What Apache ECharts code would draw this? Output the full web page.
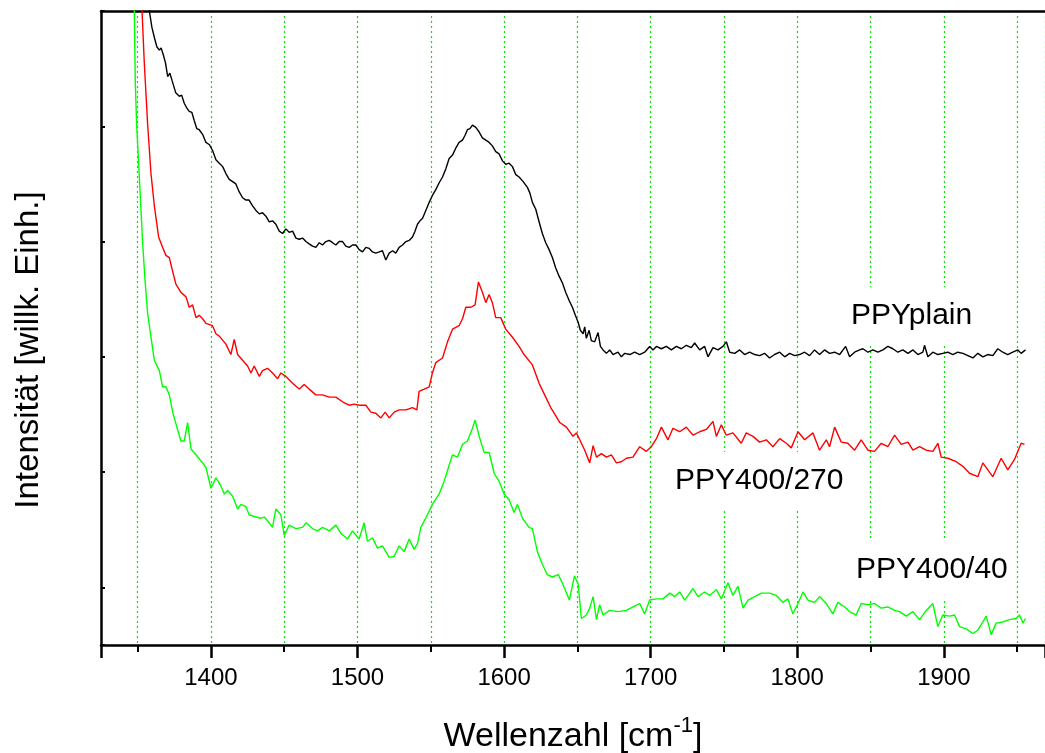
<!DOCTYPE html>
<html>
<head>
<meta charset="utf-8">
<script src="https://cdn.jsdelivr.net/npm/echarts@6/dist/echarts.min.js"></script>
<style>
html,body{margin:0;padding:0;background:#fff;}
#chart{width:1045px;height:753px;}
</style>
</head>
<body>
<div id="chart"></div>
<script>
// Wavenumbers (cm^-1) and intensities (arb. units, y axis from -50 to 500)
const plainWn = [1352,1355,1358,1359.7,1361.4,1363.1,1364.8,1366,1367.5,1369,1370.5,1372,1373.4,1376,1378.4,1380,1381.8,1383.5,1385.2,1387,1388.6,1390.3,1392,1394.3,1396.6,1399,1401.1,1403.4,1405.7,1408,1410.2,1412.5,1414.8,1417,1419.3,1421.6,1423.9,1426,1428.4,1430.7,1433,1435.2,1437.5,1439.8,1442,1444.3,1446.6,1448.9,1451.1,1453.4,1455.7,1458,1460.2,1462.5,1464.8,1467,1469.3,1471.6,1473.9,1476.1,1478.4,1480.7,1483,1485.2,1487.5,1489.8,1492,1494.3,1496.6,1498.9,1501.1,1503.4,1505.7,1508,1510.2,1512.5,1514.8,1517,1519.3,1521.6,1523.9,1526.1,1528.4,1530.7,1533,1535.2,1537.5,1539.2,1540.9,1542.6,1544.3,1546.6,1548.9,1551.1,1553.4,1555.7,1558,1560.2,1562.5,1564.8,1567,1569.3,1571.6,1573.3,1575,1576.7,1578.4,1580.7,1583,1585.2,1587.5,1589.8,1592,1594.3,1596.6,1598.9,1601.1,1603.4,1605.7,1608,1610.2,1613,1615.9,1617.6,1619.3,1621.6,1623.9,1626.1,1628.4,1630.7,1633,1635.2,1637.5,1639.8,1642,1644.3,1646.6,1648.6,1650.5,1652,1653.9,1655,1656.1,1658,1659.5,1661.8,1664.1,1665.7,1667.5,1669.8,1672,1674.3,1677.7,1680,1682.3,1685.7,1689.1,1692.5,1695.9,1699.3,1701.6,1703.9,1707.3,1710.7,1714.1,1717.5,1720.9,1724.3,1727.7,1730,1733.4,1736.8,1739.1,1742.5,1745.9,1749.3,1751.6,1753.9,1757.3,1760.7,1764.1,1767.5,1770.9,1774.3,1777.7,1781.1,1784.5,1788,1791.4,1794.8,1798.2,1801.6,1805,1808.4,1811.8,1815.2,1818.6,1822,1825.5,1828.9,1833,1835.7,1839.1,1842.5,1844.8,1848.2,1851.6,1855,1858.4,1861.8,1865.2,1868.6,1872,1875.5,1878.9,1882.3,1885.7,1886.8,1889.1,1892.5,1895.9,1899.3,1902.7,1906.1,1909.5,1913,1916.4,1919.8,1923.2,1926.6,1930,1933.4,1936.8,1940.2,1943.6,1947,1950.5,1952.7,1955.7];
const plainVal = [640,560,500,486,477,469,466,468,462,455,443,446,440,429,426,427,420,416,413,412,405,398,397,393,386,384,379,371,368,365,359,354,352,350,343,338,336,336,331,327,324,325,322,317,318,315,309,307,311,308,309,303,302,303,300,298,296,295,299,297,300,301,299,297,300,300,296,295,297,297,293,291,295,294,291,290,291,292,284,290,292,290,295,297,300,301,304,309,315,318,320,327,334,340,345,351,356,363,372,375,381,386,388,392,397,398,401,399,395,390,388,386,383,378,376,370,367,368,365,358,356,352,347,342,334,328,317,307,299,293,286,277,270,264,256,249,243,236,230,223,220,226,216,223,214,213,221,209,206,203,206,202,204,200,203,202,204,202,204,209,206,209,207,209,206,209,207,210,208,212,206,209,200,208,206,209,213,204,203,206,202,204,202,201,203,199,202,204,200,203,201,202,204,201,206,202,206,203,204,202,209,200,204,206,207,204,206,204,206,209,207,204,206,203,206,202,204,210,200,204,202,203,204,202,204,203,201,199,203,200,202,201,207,204,202,204,206,203,206];

const r270Wn = [1351.5,1353,1354.5,1356.8,1359.1,1361.4,1364.3,1367,1369.3,1371.6,1373.9,1376.1,1379.5,1383,1385.2,1387.5,1389.8,1392,1394.3,1396.6,1401.1,1403.4,1405.7,1410.2,1413.6,1415.9,1418.2,1421.6,1425,1427.3,1429.5,1433,1435.2,1438.6,1442,1445.5,1447.7,1451.1,1455.7,1460.2,1463.6,1467,1471.6,1476.1,1480.7,1485.2,1489.8,1494.3,1497.7,1501.1,1505.7,1509.1,1512.5,1515.9,1518.9,1521.6,1525,1528.4,1533,1537.5,1540.5,1542,1545.5,1548.9,1551.1,1553.4,1558,1561.4,1564.8,1569.3,1571.6,1573.9,1577.3,1580.2,1582.5,1585.2,1587.5,1589.8,1592,1594.3,1597.7,1601.1,1605.7,1610.2,1613.6,1619.3,1623.9,1628.4,1631.8,1635.2,1638,1642.5,1647,1649.3,1651.6,1655,1658.4,1660.7,1663,1666.4,1669.8,1673.2,1676.6,1680,1683.4,1687.9,1692.5,1697,1700.5,1703.9,1707.3,1711.8,1715.2,1719.8,1724.3,1728.9,1733.4,1738,1742.5,1744.8,1748.2,1751.6,1756.1,1761.8,1765.2,1769.8,1774.3,1778.9,1783.4,1788,1792.5,1795.9,1800.5,1805,1810.7,1815.2,1819.8,1822,1825.5,1830,1834.5,1839.1,1843.6,1848.2,1852.7,1857.3,1861.8,1866.4,1870.9,1875.5,1878.9,1883.4,1888,1892.5,1895.9,1898.2,1902.7,1908.4,1913,1917.5,1923.2,1926.6,1931.1,1933.4,1939.1,1943.6,1948.2,1952.7,1955];
const r270Val = [600,500,456,402,359,331,304,295,288,286,274,263,256,252,243,245,234,236,233,229,227,220,218,211,202,215,202,197,192,186,192,183,188,190,186,181,186,183,177,172,176,172,167,167,165,165,161,158,159,158,158,152,151,147,152,147,152,154,154,156,154,170,172,174,186,195,199,213,224,227,233,243,243,245,265,256,247,254,247,234,234,224,217,209,202,193,177,165,156,149,143,139,131,134,128,119,108,123,113,116,113,115,108,109,112,113,122,118,122,129,139,128,138,135,139,132,135,137,144,131,141,132,134,125,134,131,126,128,122,129,125,121,135,128,134,119,128,122,139,126,125,119,128,119,118,125,122,132,124,126,119,122,119,118,125,113,112,109,105,99,96,108,100,96,112,102,111,125,124];

const g40Wn = [1347.5,1348.4,1349.3,1350.7,1352.3,1353.4,1355,1356.8,1359.1,1361.4,1364.8,1367,1369.3,1371.6,1373.9,1376.1,1377.2,1379.5,1381.8,1384.1,1386.4,1389.8,1394.3,1396.6,1400,1403.4,1406.8,1409.1,1411.4,1414.8,1418.2,1420.5,1423.9,1426.1,1430.7,1434.1,1436.4,1439.8,1442,1444.3,1447.7,1450,1453.4,1457.9,1462.5,1464.8,1469.3,1472.7,1476.1,1480.7,1485.2,1488.6,1493.2,1496.6,1501.1,1504.5,1506.8,1510.2,1513.6,1517,1521.6,1525,1528.4,1531.8,1535.2,1538.6,1540.9,1543.2,1547.7,1551.1,1555.7,1559.1,1562.5,1564.8,1568.2,1571.6,1575,1578.4,1580.2,1583,1586.4,1589.8,1593.2,1596.6,1600,1603.4,1606.8,1609.1,1612.5,1617,1619.3,1622.7,1626.1,1629.5,1633,1637,1640,1644.5,1648,1650.5,1652.7,1656.1,1658.4,1660.7,1663,1665.2,1667.5,1672,1677.7,1683.4,1687.9,1692.5,1695.9,1699.3,1703.9,1708.4,1713,1716.4,1719.8,1723.2,1726.6,1728.9,1732.3,1736.8,1740.2,1744.8,1748.2,1752.7,1756.1,1759.5,1763,1766.4,1770.9,1775.5,1781.1,1785.7,1790.2,1793.6,1797,1800.5,1803.9,1807.3,1811.8,1815.2,1819.8,1824.3,1827.7,1832.3,1835.7,1840.2,1843.6,1848.2,1852.7,1857.3,1861.8,1866.4,1869.8,1874.3,1878.9,1883.4,1888,1892.5,1895.9,1899.3,1903.9,1907.3,1910.7,1915.2,1919.8,1923.2,1926.6,1928.9,1932.3,1935.7,1940.2,1944.8,1949.3,1951.6,1953.9,1955.7];
const g40Val = [520,438,402,367,327,299,267,238,217,197,188,174,174,167,152,142,142,127,127,143,120,115,108,104,86,95,88,81,84,79,68,72,70,63,61,60,61,56,52,68,63,45,54,51,52,56,51,49,52,49,54,47,42,49,42,56,40,43,34,36,26,27,36,31,42,33,38,52,63,72,81,92,106,115,113,124,127,138,145,131,117,117,99,92,81,76,65,72,60,52,51,31,20,11,9,11,3,-11,10,3,-27,-24,-18,-8,-28,-15,-24,-20,-21,-20,-17,-14,-23,-11,-10,-10,-5,-8,-4,-11,-5,-1,-8,-4,-7,-2,-10,4,-7,1,-18,-11,-8,-5,-5,-7,-13,-10,-23,-14,-4,-11,-13,-8,-14,-23,-13,-17,-21,-24,-14,-15,-14,-18,-17,-20,-21,-25,-21,-28,-20,-14,-34,-24,-25,-24,-34,-36,-40,-37,-30,-25,-41,-31,-30,-28,-27,-24,-31,-27];

const seriesNames = ['PPYplain', 'PPY400/270', 'PPY400/40'];
const xTitle = 'Wellenzahl [cm{sup|-1}]';
const yTitle = 'Intensität [willk. Einh.]';

const FONT = '"Liberation Sans", Arial, Helvetica, sans-serif';
function pairs(xs, ys) { return xs.map((x, i) => [x, ys[i]]); }

const gridStyle = { color: '#00e600', type: [2, 3], width: 1.2 };

const chart = echarts.init(document.getElementById('chart'), null, { renderer: 'canvas' });
chart.setOption({
  animation: false,
  backgroundColor: '#ffffff',
  grid: { left: 101, right: 0, top: 11, bottom: 108, containLabel: false, outerBoundsMode: 'none' },
  xAxis: [{
    type: 'value', min: 1325, max: 1969, splitNumber: 6,
    axisLine: { show: true, onZero: false, lineStyle: { color: '#000', width: 2.5 } },
    axisTick: { show: true, inside: false, length: 13, lineStyle: { color: '#000', width: 2.5 } },
    minorTick: { show: true, splitNumber: 2, length: 7, lineStyle: { color: '#000', width: 2 } },
    axisLabel: { show: true, showMinLabel: false, showMaxLabel: false, fontSize: 24, color: '#000', margin: 21, fontFamily: FONT,
      formatter: v => String(v) },
    splitLine: { show: true, lineStyle: gridStyle },
    minorSplitLine: { show: true, lineStyle: gridStyle },
    name: xTitle, nameLocation: 'middle', nameGap: 70,
    nameTextStyle: { fontSize: 34, lineHeight: 44, color: '#000', fontFamily: FONT,
      rich: { sup: { fontSize: 22, lineHeight: 22, verticalAlign: 'top', color: '#000', fontFamily: FONT } } }
  }, {
    type: 'value', position: 'top', min: 1325, max: 1969,
    axisLine: { show: true, onZero: false, lineStyle: { color: '#000', width: 2.5 } },
    axisTick: { show: false }, axisLabel: { show: false }, splitLine: { show: false }
  }],
  yAxis: {
    type: 'value', min: -50, max: 500, splitNumber: 5,
    axisLine: { show: true, onZero: false, lineStyle: { color: '#000', width: 2.5 } },
    axisTick: { show: true, inside: true, length: 4, lineStyle: { color: '#000', width: 2 } },
    axisLabel: { show: false },
    splitLine: { show: false },
    name: yTitle, nameLocation: 'middle', nameGap: 56, nameRotate: 90,
    nameTextStyle: { fontSize: 33, color: '#000', fontFamily: FONT, padding: [0, 44, 0, 0] }
  },
  series: [
    { name: seriesNames[0], type: 'line', data: pairs(plainWn, plainVal), showSymbol: false, symbol: 'none', z: 3,
      lineStyle: { color: '#000000', width: 1.4 }, itemStyle: { color: '#000' }, clip: true },
    { name: seriesNames[1], type: 'line', data: pairs(r270Wn, r270Val), showSymbol: false, symbol: 'none', z: 3,
      lineStyle: { color: '#ff0000', width: 1.4 }, itemStyle: { color: '#f00' }, clip: true },
    { name: seriesNames[2], type: 'line', data: pairs(g40Wn, g40Val), showSymbol: false, symbol: 'none', z: 3,
      lineStyle: { color: '#00ff00', width: 1.4 }, itemStyle: { color: '#0f0' }, clip: true }
  ],
  graphic: [
    { type: 'text', x: 847, y: 316, z: 1,
      style: { text: seriesNames[0], fontSize: 30, fontFamily: FONT, fill: '#000', align: 'left', verticalAlign: 'middle', backgroundColor: '#fff', padding: [14, 4] } },
    { type: 'text', x: 671, y: 481, z: 1,
      style: { text: seriesNames[1], fontSize: 30, fontFamily: FONT, fill: '#000', align: 'left', verticalAlign: 'middle', backgroundColor: '#fff', padding: [14, 4] } },
    { type: 'text', x: 852, y: 570, z: 1,
      style: { text: seriesNames[2], fontSize: 30, fontFamily: FONT, fill: '#000', align: 'left', verticalAlign: 'middle', backgroundColor: '#fff', padding: [14, 4] } }
  ]
});
</script>
</body>
</html>
